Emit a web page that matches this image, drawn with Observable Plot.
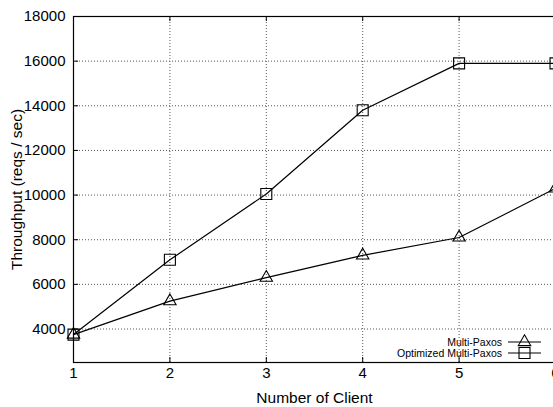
<!DOCTYPE html>
<html>
<head>
<meta charset="utf-8">
<script src="https://cdn.jsdelivr.net/npm/d3@7"></script>
<script src="https://cdn.jsdelivr.net/npm/@observablehq/plot@0.6"></script>
<style>
  html, body { margin: 0; padding: 0; background: #fff; overflow: hidden; }
  #wrap { position: relative; width: 553px; height: 407px; }
  #legend { position: absolute; font-family: "Liberation Sans", Arial, sans-serif; font-size: 10.5px; line-height: 10px; color: #000; }
  #legend .row { position: absolute; right: 0; display: flex; align-items: center; height: 10px; white-space: nowrap; }
  #legend svg { display: block; margin-left: 6px; }
</style>
</head>
<body>
<div id="wrap"></div>
<script>
const clients = [1, 2, 3, 4, 5, 6];
const multiPaxos = [3750, 5250, 6300, 7300, 8100, 10300];
const optimizedMultiPaxos = [3750, 7100, 10050, 13800, 15900, 15900];
const seriesNames = ["Multi-Paxos", "Optimized Multi-Paxos"];
const yTicks = [4000, 6000, 8000, 10000, 12000, 14000, 16000, 18000];
const xTicks = [1, 2, 3, 4, 5, 6];

const W = 553, H = 407;
const mL = 73, mR = -2, mT = 16, mB = 45;
const frameW = W - mL - mR, frameH = H - mT - mB;

const rowsA = clients.map((c, i) => ({x: c, y: multiPaxos[i], s: seriesNames[0]}));
const rowsB = clients.map((c, i) => ({x: c, y: optimizedMultiPaxos[i], s: seriesNames[1]}));

const innerY = yTicks.slice(0, -1);
const innerX = xTicks.slice(1, -1);
const grid = {stroke: "#555", strokeWidth: 1, strokeDasharray: "1,2"};

const chart = Plot.plot({
  width: W, height: H,
  marginLeft: mL, marginRight: mR, marginTop: mT, marginBottom: mB,
  style: {fontFamily: "Liberation Sans, Arial, sans-serif", fontSize: "15px", color: "#000", background: "#fff", overflow: "visible"},
  x: {domain: [1, 6], ticks: xTicks, tickFormat: "d", label: null},
  y: {domain: [2500, 18000], ticks: yTicks, tickFormat: "d", label: null},
  marks: [
    Plot.ruleY(innerY, grid),
    Plot.ruleX(innerX, grid),
    Plot.tickY(innerY, {y: d => d, insetRight: frameW - 5, stroke: "#000"}),
    Plot.tickX(innerX, {x: d => d, insetTop: frameH - 5, stroke: "#000"}),
    Plot.tickX(innerX, {x: d => d, insetBottom: frameH - 5, stroke: "#000"}),
    Plot.frame({stroke: "#000", strokeWidth: 1.2}),
    Plot.axisY({ticks: yTicks, tickFormat: "d", tickSize: 0, tickPadding: 8, label: null, fontSize: 15}),
    Plot.axisX({ticks: xTicks, tickFormat: "d", tickSize: 0, tickPadding: 5, label: null, fontSize: 15}),
    Plot.line(rowsB, {x: "x", y: "y", stroke: "#000", strokeWidth: 1.2}),
    Plot.line(rowsA, {x: "x", y: "y", stroke: "#000", strokeWidth: 1.2}),
    Plot.dot(rowsB, {x: "x", y: "y", symbol: "square", r: 6.2, stroke: "#000", strokeWidth: 1.1, fill: "none"}),
    Plot.dot(rowsA, {x: "x", y: "y", symbol: "triangle", r: 4.6, stroke: "#000", strokeWidth: 1.1, fill: "none"}),
    Plot.text(["Number of Client"], {frameAnchor: "bottom", dy: 36, fontSize: 15.5, lineAnchor: "middle"}),
    Plot.text(["Throughput (reqs / sec)"], {frameAnchor: "left", dx: -56, rotate: -90, fontSize: 15.5, lineAnchor: "middle", textAnchor: "middle"})
  ]
});

const wrap = document.getElementById("wrap");
wrap.appendChild(chart);

const legend = document.createElement("div");
legend.id = "legend";
legend.style.left = "0px";
legend.style.width = "541px";
legend.style.top = "337px";
const symR = [4.6, 6.2];
seriesNames.forEach((name, i) => {
  const row = document.createElement("div");
  row.className = "row";
  row.style.top = (i * 10.5) + "px";
  const span = document.createElement("span");
  span.textContent = name;
  row.appendChild(span);
  const sv = d3.create("svg").attr("width", 33).attr("height", 10).style("overflow", "visible");
  sv.append("line").attr("x1", 0).attr("x2", 33).attr("y1", 5).attr("y2", 5).attr("stroke", "#000").attr("stroke-width", 1.2);
  const sym = i === 0 ? d3.symbolTriangle : d3.symbolSquare;
  sv.append("path").attr("d", d3.symbol(sym, symR[i] * symR[i] * Math.PI)()).attr("transform", "translate(16.5,5)")
    .attr("fill", "none").attr("stroke", "#000").attr("stroke-width", 1.1);
  row.appendChild(sv.node());
  legend.appendChild(row);
});
wrap.appendChild(legend);
</script>
</body>
</html>
